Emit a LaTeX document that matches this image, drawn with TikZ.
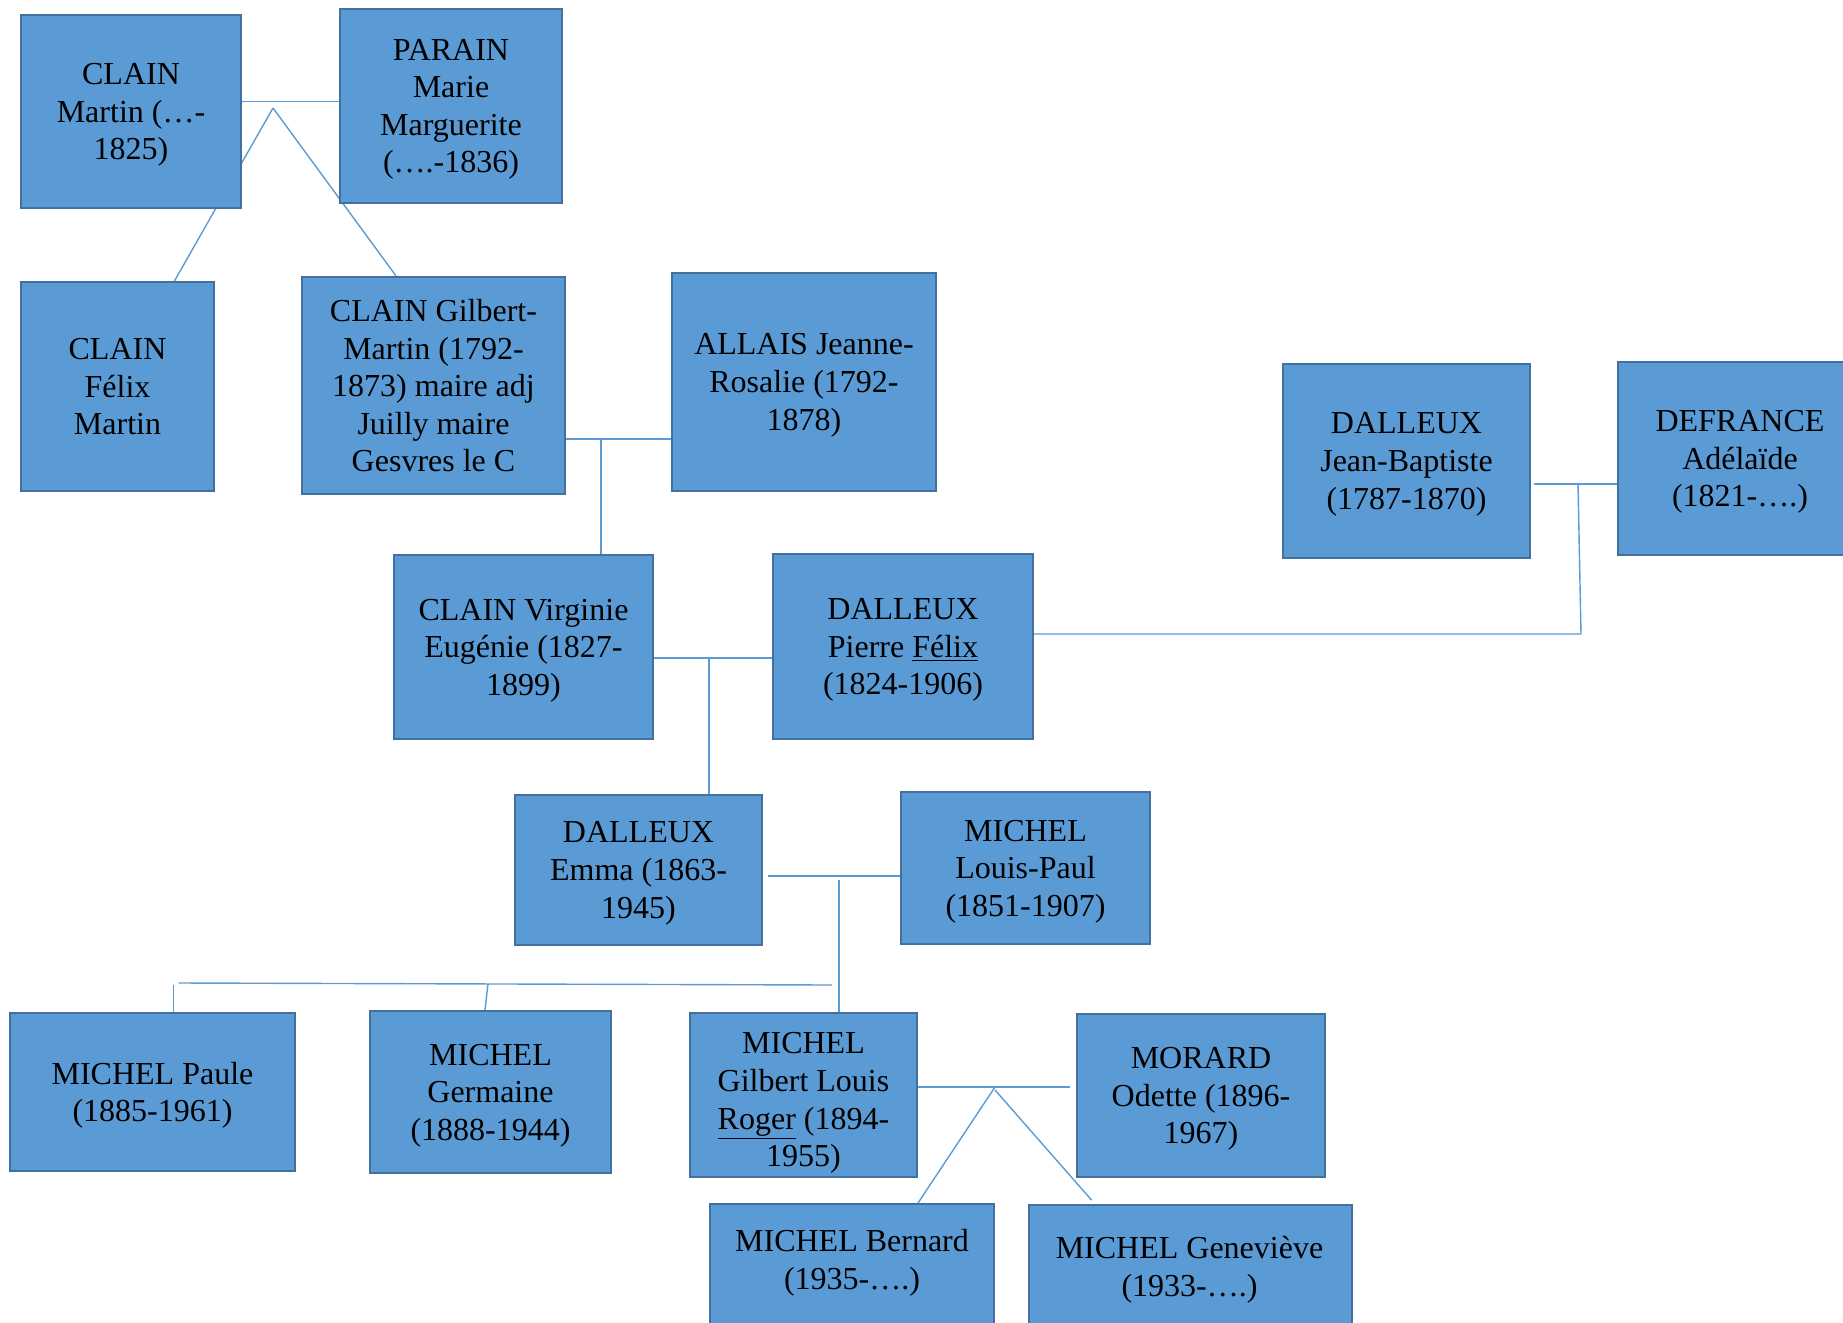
\documentclass[tikz,border=0pt]{standalone}
\usepackage{fontspec}
\setmainfont{Liberation Serif}
\usetikzlibrary{backgrounds}
\definecolor{boxfill}{HTML}{5B9BD5}
\definecolor{boxedge}{HTML}{41719C}
\definecolor{linkblue}{HTML}{5B9BD5}

\begin{document}
\begin{tikzpicture}[x=0.5pt, y=-0.5pt,
  person/.style={draw=boxedge, fill=boxfill, line width=1.1pt, align=center,
    inner sep=2pt, text depth=0pt, font=\fontsize{16}{18.8}\selectfont},
  names/.style={align=center, font=\fontsize{16}{18.8}\selectfont},
  link/.style={draw=linkblue, line width=0.7pt}]
\useasboundingbox (0,0) rectangle (1843,1323);
% draws boxes
\node[person, minimum width=110pt, minimum height=96.5pt] (cmartin) at (131,111.5) {CLAIN\\Martin (…-\\1825)};
\node[person, minimum width=111pt, minimum height=97pt] (parain) at (451,106) {PARAIN\\Marie\\Marguerite\\(….-1836)};
\node[person, minimum width=96.5pt, minimum height=104.5pt] (felix) at (117.5,386.5) {CLAIN\\Félix\\Martin};
\node[person, minimum width=131.5pt, minimum height=108.5pt] (gilbert) at (433.5,385.5) {CLAIN Gilbert-\\Martin (1792-\\1873) maire adj\\Juilly maire\\Gesvres le C};
\node[person, minimum width=132pt, minimum height=109pt] (allais) at (804,382) {ALLAIS Jeanne-\\Rosalie (1792-\\1878)};
\node[person, minimum width=123.5pt, minimum height=97pt] (djb) at (1406.5,461) {DALLEUX\\Jean-Baptiste\\(1787-1870)};
\node[person, minimum width=122pt, minimum height=96.5pt] (defrance) at (1740,458.5) {DEFRANCE\\Adélaïde\\(1821-….)};
\node[person, minimum width=129.5pt, minimum height=92pt] (virginie) at (523.5,647) {CLAIN Virginie\\Eugénie (1827-\\1899)};
\node[person, minimum width=130pt, minimum height=92.5pt] (pierre) at (903,646.5) {DALLEUX\\Pierre \underline{Félix}\\(1824-1906)};
\node[person, minimum width=123.5pt, minimum height=75pt] (emma) at (638.5,870) {DALLEUX\\Emma (1863-\\1945)};
\node[person, minimum width=124.5pt, minimum height=76pt] (louis) at (1025.5,868) {MICHEL\\Louis-Paul\\(1851-1907)};
\node[person, minimum width=142.5pt, minimum height=79pt] (paule) at (152.5,1092) {MICHEL Paule\\(1885-1961)};
\node[person, minimum width=120.5pt, minimum height=81pt] (germaine) at (490.5,1092) {MICHEL\\Germaine\\(1888-1944)};
\node[person, minimum width=113.5pt, minimum height=82pt] (roger) at (803.5,1095) {\rule{0pt}{15.3pt}MICHEL\\Gilbert Louis\\\underline{Roger} (1894-\\1955)};
\node[person, minimum width=124pt, minimum height=81.5pt] (morard) at (1201,1095.5) {MORARD\\Odette (1896-\\1967)};
\node[person, anchor=north, minimum width=142pt, minimum height=100pt] (bernard) at (852,1203) {};
\node[names] (bernardtxt) at (852,1262.5) {MICHEL Bernard\\(1935-….)};
\node[person, anchor=north, minimum width=161.5pt, minimum height=100pt] (genev) at (1190.5,1204) {};
\node[names] (genevtxt) at (1189.5,1269.5) {MICHEL Geneviève\\(1933-….)};
% junction points
\coordinate (j1) at (290,101.5);
\coordinate (a1) at (273,108);
\coordinate (j2) at (601,439);
\coordinate (j3) at (709,658);
\coordinate (j4) at (1578,484);
\coordinate (j5) at (1581,634);
\coordinate (j6) at (839,876);
\coordinate (bl) at (178.6,983);
\coordinate (br) at (832,985);
\coordinate (j9) at (173.5,985);
\coordinate (j10) at (488,984);
\coordinate (j11) at (995,1087);
% draws links
\begin{scope}[on background layer]
\draw[link] (cmartin.east |- j1) -- (parain.west |- j1);
\draw[link] (a1) -- ([xshift=28.5pt]felix.north);
\draw[link] (a1) -- ([xshift=-18.75pt]gilbert.north);
\draw[link] (gilbert.east |- j2) -- (allais.west |- j2);
\draw[link] (j2) -- (j2 |- virginie.north);
\draw[link] (virginie.east |- j3) -- (pierre.west |- j3);
\draw[link] (j3) -- (j3 |- emma.north);
\draw[link, shorten <=1.5pt] (djb.east |- j4) -- (defrance.west |- j4);
\draw[link] (j4) -- (j5) -- (pierre.east |- j5);
\draw[link, shorten <=2.5pt] (emma.east |- j6) -- (louis.west |- j6);
\draw[link] ([yshift=-2pt]j6) -- (j6 |- roger.north);
\draw[link] (bl) -- (br);
\draw[link] (j9) -- (j9 |- paule.north);
\draw[link] (j10) -- ([xshift=-2.75pt]germaine.north);
\draw[link, shorten >=2.75pt] (roger.east |- j11) -- (morard.west |- j11);
\draw[link] (j11) -- ([xshift=33pt]bernard.north);
\draw[link, shorten >=2.5pt] ([yshift=-1.5pt]j11) -- ([xshift=-47.75pt]genev.north);
\end{scope}
\end{tikzpicture}
\end{document}
